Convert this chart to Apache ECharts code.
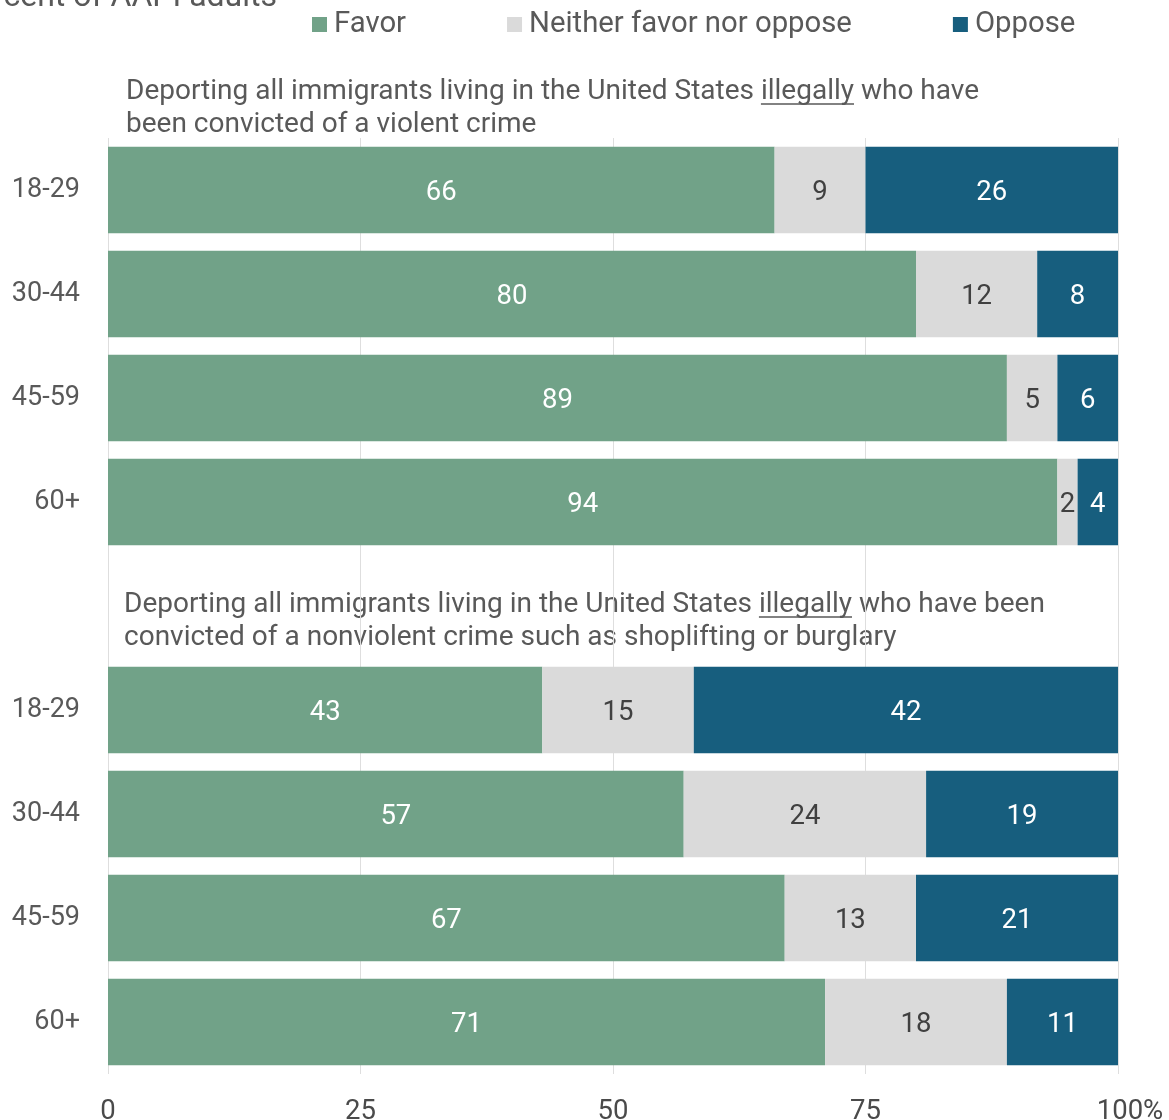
<!DOCTYPE html>
<html><head><meta charset="utf-8">
<script src="https://cdn.jsdelivr.net/npm/echarts@6/dist/echarts.min.js"></script>
<style>html,body{margin:0;padding:0;background:#fff}#c{width:1169px;height:1120px}</style>
</head><body><div id="c"></div>
<script>
const categories = ['18-29','30-44','45-59','60+','','18-29','30-44','45-59','60+'];
const favorViolent = [66, 80, 89, 94];
const neitherViolent = [9, 12, 5, 2];
const opposeViolent = [26, 8, 6, 4];
const favorNonviolent = [43, 57, 67, 71];
const neitherNonviolent = [15, 24, 13, 18];
const opposeNonviolent = [42, 19, 21, 11];
const xTicks = [0, 25, 50, 75, 100];
const seriesNames = ['Favor', 'Neither favor nor oppose', 'Oppose'];
const title1 = ['Deporting all immigrants living in the United States ', 'illegally', ' who have', 'been convicted of a violent crime'];
const title2 = ['Deporting all immigrants living in the United States ', 'illegally', ' who have been', 'convicted of a nonviolent crime such as shoplifting or burglary'];

const join = (a, b) => a.concat(['-'], b);
const FONT = 'Roboto';
const colors = ['#71a288', '#dadada', '#175e7e'];
const labelColors = ['#ffffff', '#404040', '#ffffff'];
const dataSets = [join(favorViolent, favorNonviolent), join(neitherViolent, neitherNonviolent), join(opposeViolent, opposeNonviolent)];

const chart = echarts.init(document.getElementById('c'), null, {renderer: 'canvas'});

const TITLE_SIZE = 28;
const ctx = document.createElement('canvas').getContext('2d');
ctx.font = TITLE_SIZE + 'px ' + FONT;
function underline(parts, x, y) {
  const x0 = x + ctx.measureText(parts[0]).width;
  const w = ctx.measureText(parts[1]).width;
  return {type: 'line', shape: {x1: x0, y1: y, x2: x0 + w, y2: y}, style: {stroke: '#595959', lineWidth: 1.5}, z: 10};
}
const titleStyle = {fontSize: TITLE_SIZE, fontFamily: FONT, fill: '#595959', lineHeight: 33};

const option = {
  animation: false,
  backgroundColor: '#fff',
  color: colors,
  textStyle: {fontFamily: FONT},
  legend: {
    left: 307, top: 5, itemWidth: 15, itemHeight: 15, itemGap: 101,
    icon: 'rect',
    textStyle: {fontSize: 29.3, color: '#595959', fontFamily: FONT, padding: [0, 0, 0, 2]},
    data: seriesNames
  },
  grid: {left: 108, right: 51, top: 138, bottom: 46, containLabel: false, outerBoundsMode: 'none'},
  xAxis: {
    type: 'value', min: 0, max: 100, interval: 25,
    axisLine: {show: false},
    axisTick: {show: false},
    splitLine: {show: true, lineStyle: {color: '#dedede', width: 1}},
    axisLabel: {
      fontSize: 27.5, color: '#4a4a4a', margin: 24, fontFamily: FONT,
      formatter: v => xTicks.indexOf(v) < 0 ? '' : (v === 100 ? '{p|100%}' : String(v)),
      rich: {p: {fontSize: 27.5, color: '#4a4a4a', padding: [0, 0, 0, 24], fontFamily: FONT}}
    }
  },
  yAxis: {
    type: 'category', inverse: true, data: categories,
    axisLine: {show: false}, axisTick: {show: false}, splitLine: {show: false},
    axisLabel: {fontSize: 27, color: '#595959', margin: 28, fontFamily: FONT, padding: [16, 0, 0, 0]}
  },
  graphic: [
    {type: 'text', x: 277, y: -2, style: {text: 'Percent of AAPI adults', textAlign: 'right', textVerticalAlign: 'middle', fontSize: 32, fontFamily: FONT, fill: '#595959'}},
    {type: 'text', x: 126, y: 75, style: Object.assign({text: title1[0] + title1[1] + title1[2] + '\n' + title1[3]}, titleStyle)},
    underline(title1, 126, 104),
    {type: 'text', x: 124, y: 588, style: Object.assign({text: title2[0] + title2[1] + title2[2] + '\n' + title2[3]}, titleStyle)},
    underline(title2, 124, 617)
  ],
  series: seriesNames.map((n, i) => ({
    name: n, type: 'bar', stack: 'all',
    data: dataSets[i],
    barCategoryGap: '17%',
    itemStyle: {color: colors[i]},
    label: {show: true, position: 'inside', color: labelColors[i], fontSize: 27.5, fontFamily: FONT, offset: [0, 3]}
  }))
};
chart.setOption(option);
</script></body></html>
